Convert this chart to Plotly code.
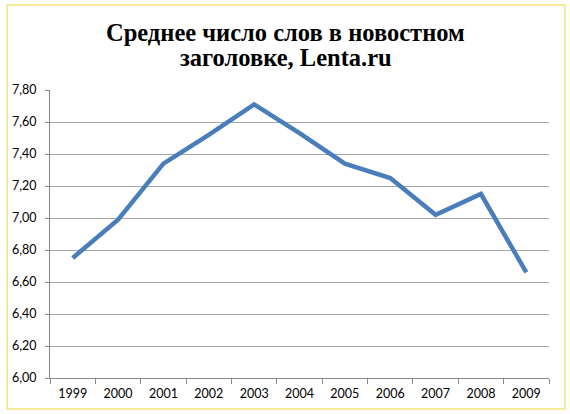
import plotly.graph_objects as go

years = ["1999", "2000", "2001", "2002", "2003", "2004", "2005", "2006", "2007", "2008", "2009"]
avg_words = [6.75, 6.99, 7.34, 7.52, 7.71, 7.53, 7.34, 7.25, 7.02, 7.15, 6.66]
y_tick_vals = [6.0, 6.2, 6.4, 6.6, 6.8, 7.0, 7.2, 7.4, 7.6, 7.8]
y_tick_text = ["6,00", "6,20", "6,40", "6,60", "6,80", "7,00", "7,20", "7,40", "7,60", "7,80"]
title_lines = ["Среднее число слов в новостном", "заголовке, Lenta.ru"]

W, H = 570, 414
ML, MR, MT, MB = 48, 21, 90, 36
PW, PH = W - ML - MR, H - MT - MB


def px_x(x):
    return (x - ML) / PW


def px_y(y):
    return (H - MB - y) / PH


fig = go.Figure()
fig.add_trace(go.Scatter(
    x=years, y=avg_words, mode="lines",
    line=dict(color="#4A7EBB", width=4.5),
    showlegend=False, hoverinfo="skip",
))

title_font = dict(family="Liberation Serif", size=24.5, color="black", weight="bold")
annotations = []
for line, ypx in zip(title_lines, [33, 57]):
    annotations.append(dict(
        text=line, xref="paper", yref="paper", x=px_x(284.5), y=px_y(ypx),
        xanchor="center", yanchor="middle", showarrow=False, font=title_font,
    ))

fig.update_layout(
    width=W, height=H,
    margin=dict(l=ML, r=MR, t=MT, b=MB),
    paper_bgcolor="white", plot_bgcolor="white",
    font=dict(family="Lato", size=12, color="black"),
    annotations=annotations,
    shapes=[dict(type="rect", xref="paper", yref="paper",
                 x0=px_x(5), x1=px_x(565), y0=px_y(409), y1=px_y(5),
                 line=dict(color="#F2E27A", width=1.5), layer="below")],
)
fig.update_xaxes(
    type="category", range=[-0.5, 10.5],
    showline=True, linecolor="#888888", linewidth=1,
    ticks="outside", tickson="boundaries", ticklen=5, tickcolor="#888888",
    showgrid=False, tickfont=dict(size=12.5), ticklabelstandoff=4,
)
fig.update_yaxes(
    range=[6.0, 7.8], tickvals=y_tick_vals, ticktext=y_tick_text,
    showline=True, linecolor="#888888", linewidth=1,
    ticks="outside", ticklen=4, tickcolor="#888888",
    showgrid=True, gridcolor="#A6A6A6", gridwidth=1,
    zeroline=False, tickfont=dict(size=12.5), ticklabelstandoff=6,
)

fig.write_html("out.html", config={"displayModeBar": False},
               post_script="document.body.style.margin='0';")
